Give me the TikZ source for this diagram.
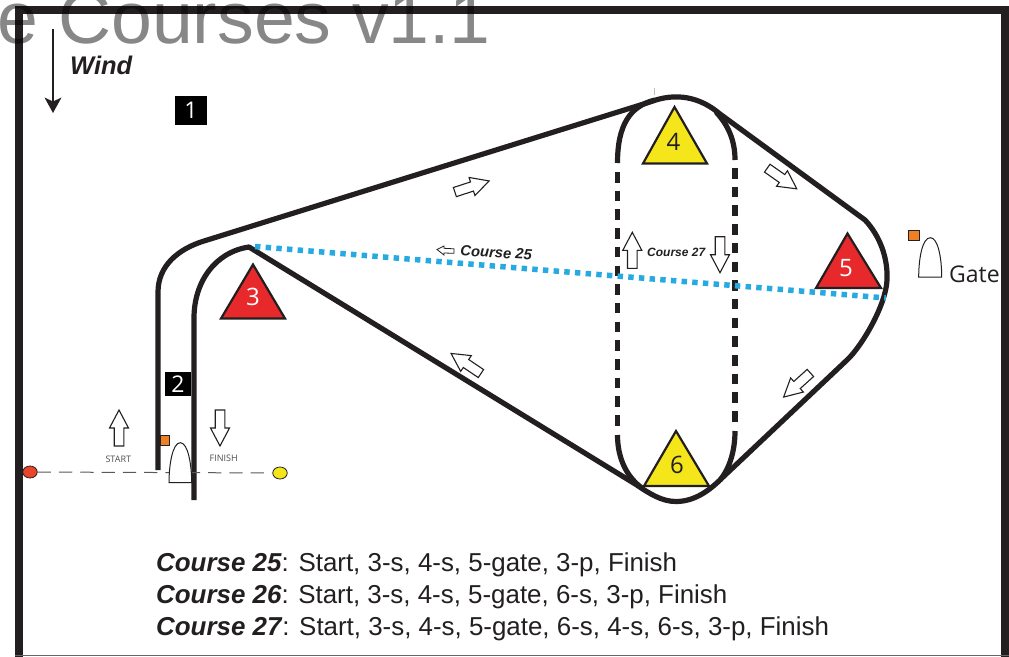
\documentclass[tikz,border=0pt]{standalone}
\usepackage{fontspec}
\usetikzlibrary{shapes.geometric}
\setmainfont{Liberation Sans}
\newfontfamily\hum{Open Sans}
\definecolor{ink}{HTML}{231F20}
\definecolor{flagor}{HTML}{EE7F22}
\definecolor{mred}{HTML}{E8292C}
\definecolor{pinred}{HTML}{E8452A}
\definecolor{myel}{HTML}{F5E61C}
\definecolor{sky}{HTML}{27AAE1}
\tikzset{
 course/.style={draw=ink,line width=5.2pt,line join=round},
 legdash/.style={draw=ink,line width=5.2pt,dash pattern=on 10.5pt off 8.2pt},
 mark tri/.style={draw=ink,line width=2.2pt,line join=miter},
 hollow/.style={draw=ink,line width=1.1pt,fill=white,line join=miter},
 marktext/.style={font=\hum\fontsize{24}{24}\selectfont,inner sep=0pt},
 tag/.style={fill=black,text=white,font=\hum\fontsize{23}{23}\selectfont,inner sep=0pt},
 leg/.style={font=\fontsize{25.9}{26}\selectfont,text=ink,anchor=base west,inner sep=0pt},
 boat/.style={draw=ink,line width=1pt,fill=white},
 buoy/.style={ellipse,draw=ink,line width=.8pt,minimum width=14.5pt,minimum height=12pt,inner sep=0pt},
}
\newcommand{\blockarrow}[3]{%
 \draw[hollow,shift={(#1,#2)},rotate=#3] (-4.8,18)--(4.8,18)--(4.8,0)--(9.5,0)--(0,-18)--(-9.5,0)--(-4.8,0)--cycle;}
\begin{document}
\begin{tikzpicture}[x=1pt,y=-1pt]
\useasboundingbox (0,0) rectangle (1009,656);
\clip (0,0) rectangle (1009,656);
\fill[white] (0,0) rectangle (1009,656);
% frame
\draw[draw=ink,line width=7.8pt,line join=miter] (19,700)--(19,9.7)--(1005,9.7)--(1005,700);
\draw[draw=black!60,line width=.8pt] (15,655.5)--(1009,655.5);
% title
\node[anchor=base west,inner sep=0pt,text=black,opacity=.47,font=\fontsize{73.4}{73}\selectfont] (title) at (-3,43.5) {e Courses v1.1};
% wind
\coordinate (w1) at (53,29); \coordinate (w2) at (53,113);
\draw[ink,line width=1.6pt] (w1)--(53,104);
\fill[ink] (w2)--(44.5,97.5)--(53,101.5)--(61.5,97.5)--cycle;
\node[anchor=base west,inner sep=0pt,font=\bfseries\itshape\fontsize{25.5}{25.5}\selectfont,text=ink] (wind) at (70,74.7) {Wind};
\node[tag,minimum width=32pt,minimum height=29pt] (t1) at (191,110.5) {1};
\node[tag,minimum width=26pt,minimum height=24pt] (t2) at (178,384) {2};
% course
\draw[course] (158,470)--(158,292) .. controls (158,266) and (178,249) .. (204,241)--(650,102);
\draw[course] (650,102) .. controls (676,92) and (700,97) .. (720,114)--(865,220) .. controls (880,236) and (888,258) .. (887,280) .. controls (886,305) and (862,346) .. (847,360)--(722,478) .. controls (710,490) and (695,501.5) .. (676,501.5) .. controls (662,501.5) and (650,494) .. (636,484.5)--(249,247) .. controls (215,252) and (194,282) .. (194,318)--(194,500);
\draw[course] (617.5,163) .. controls (617.5,125) and (630,106) .. (655,100);
\draw[course] (735,160) .. controls (735,140) and (728,125) .. (716,112);
\draw[course] (617.5,435) .. controls (617.5,460) and (628,478) .. (642,488);
\draw[course] (735,431) .. controls (735,450) and (730,468) .. (720,480);
\draw[legdash] (617.5,172)--(617.5,426);
\draw[legdash] (735,168)--(735,423);
\draw[gray!50,line width=.5pt] (654.5,88)--(654.5,95);
% marks
\draw[mark tri,fill=mred] (253,264.5)--(221,318.5)--(285,318.5)--cycle;
\node[marktext,text=white] (m3) at (253,296.5) {3};
\draw[mark tri,fill=myel] (674.5,107)--(643,163.5)--(707,163.5)--cycle;
\node[marktext,text=ink] (m4) at (673.5,142) {4};
\draw[mark tri,fill=mred] (847.5,233.5)--(816,288)--(881,288)--cycle;
\node[marktext,text=white] (m5) at (846,268) {5};
\draw[mark tri,fill=myel] (676,431)--(644,486)--(709,486)--cycle;
\node[marktext,text=ink] (m6) at (677,465) {6};
% blue dotted
\coordinate (b1) at (255,246.5); \coordinate (b2) at (886,298);
\draw[sky,line width=5.5pt,dash pattern=on 5.4pt off 5.3pt] (b1)--(b2);
% start line
\node[buoy,fill=pinred] (pin) at (30,472) {};
\node[buoy,fill=myel] (comm) at (280,473) {};
\draw[draw=black!65,line width=1pt,dash pattern=on 13.3pt off 8pt] (pin)--(comm);
% start boat
\draw[boat] (169,482.7)--(191.7,482.7) .. controls (191.7,465) and (188,442.7) .. (180.3,442.7) .. controls (172.5,442.7) and (169,465) .. (169,482.7)--cycle;
\draw[draw=ink,line width=1pt,fill=flagor] (160,435) rectangle (169.7,445.3);
% gate boat
\draw[boat] (918.7,277)--(941.7,277) .. controls (941.7,258) and (938,237.7) .. (930.3,237.7) .. controls (922.5,237.7) and (918.7,258) .. (918.7,277)--cycle;
\draw[draw=ink,line width=1pt,fill=flagor] (908.5,230) rectangle (919.5,240);
\node[anchor=base west,inner sep=0pt,text=ink,font=\hum\fontsize{23}{23}\selectfont] (gate) at (949,282) {Gate};
% block arrows
\blockarrow{119}{428}{0}
\blockarrow{220}{428}{180}
\node[inner sep=0pt,text=ink!80,font=\hum\fontsize{9}{9}\selectfont] (st) at (118.3,459.7) {START};
\node[inner sep=0pt,text=ink!80,font=\hum\fontsize{9}{9}\selectfont] (fi) at (223.7,458.7) {FINISH};
\blockarrow{472}{186.5}{-72}
\blockarrow{782}{178.5}{-125}
\blockarrow{797}{385}{-228}
\blockarrow{466}{363.5}{56}
\blockarrow{632.3}{250.3}{0}
\blockarrow{720}{254.7}{180}
\draw[hollow,line width=.8pt] (437,249.5)--(444,246)--(444,248.3)--(454,248.8)--(454,253.3)--(444,253)--(444,255)--cycle;
\node[inner sep=0pt,rotate=-3.5,anchor=base west,font=\bfseries\itshape\fontsize{14.8}{15}\selectfont,text=ink] (c25) at (460,255.5) {Course 25};
\node[inner sep=0pt,anchor=base west,font=\bfseries\itshape\fontsize{12}{12}\selectfont,text=ink] (c27) at (647,256) {Course 27};
% legend
\node[leg] (l1) at (156,571.7) {\textbf{\textit{Course 25}}: Start, 3-s, 4-s, 5-gate, 3-p, Finish};
\node[leg] (l2) at (156,603) {\textbf{\textit{Course 26}}: Start, 3-s, 4-s, 5-gate, 6-s, 3-p, Finish};
\node[leg] (l3) at (156,635) {\textbf{\textit{Course 27}}: Start, 3-s, 4-s, 5-gate, 6-s, 4-s, 6-s, 3-p, Finish};
\end{tikzpicture}
\end{document}
